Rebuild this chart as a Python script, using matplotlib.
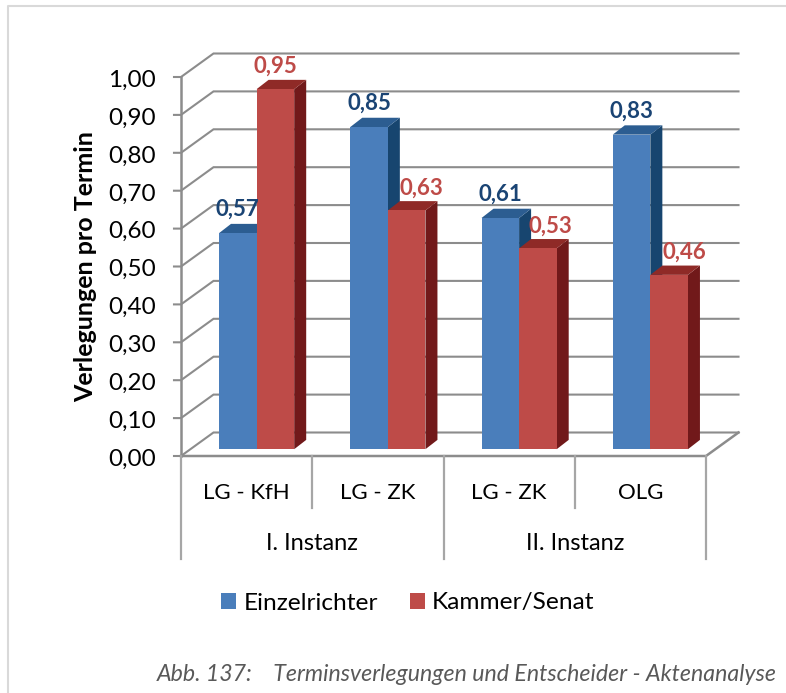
import numpy as np
import matplotlib
matplotlib.use('Agg')
from matplotlib import pyplot as plt
from matplotlib.patches import Patch, Polygon

plt.rcParams['font.family'] = ['Lato', 'DejaVu Sans']

categories = ['LG - KfH', 'LG - ZK', 'LG - ZK', 'OLG']
groups = ['I. Instanz', 'II. Instanz']
einzelrichter = [0.57, 0.85, 0.61, 0.83]
kammer_senat = [0.95, 0.63, 0.53, 0.46]
y_ticks = [0.0, 0.1, 0.2, 0.3, 0.4, 0.5, 0.6, 0.7, 0.8, 0.9, 1.0]

W, H = 786, 693
GRID = '#8c8c8c'
SEP = '#a6a6a6'

fig = plt.figure(figsize=(W / 100, H / 100), dpi=100)
# front plane of the fake 3d box, 181..706 px wide, 77..456 px high
ax = fig.add_axes([181 / W, 1 - 456 / H, 525 / W, 379 / H])
ax.set_xlim(0, 4)
ax.set_ylim(0, 1)
ax.axis('off')

px = 4 / 525
py = 1 / 379

wall_x, wall_y = 32.5 * px, 23.5 * py
for t in y_ticks:
    ax.plot([-7 * px, 0, wall_x, 4 + wall_x], [t, t, t + wall_y, t + wall_y],
            color=GRID, lw=1.5, clip_on=False, zorder=1, solid_joinstyle='miter')
ax.plot([0, 0], [0, 1], color=GRID, lw=1.8, clip_on=False, zorder=1)
ax.plot([0, 4, 4 + wall_x], [0, 0, wall_y], color=GRID, lw=1.8, clip_on=False, zorder=1)

# separators under the axis
for i in range(5):
    low = 103 if i % 2 == 0 else 52
    ax.plot([i, i], [0, -low * py], color=SEP, lw=1.6, clip_on=False, zorder=1)


def bar3d(x0, val, front, top, side):
    # x0 = left edge of the front face, in category units
    w = 37.6 * px
    dx, dy = 12 * px, 9.3 * py
    y0 = 6.8 * py
    y1 = y0 + val
    ax.add_patch(Polygon([(x0 + w, y0), (x0 + w + dx, y0 + dy), (x0 + w + dx, y1 + dy), (x0 + w, y1)],
                         fc=side, ec='none', clip_on=False, zorder=3))
    ax.add_patch(Polygon([(x0, y1), (x0 + w, y1), (x0 + w + dx, y1 + dy), (x0 + dx, y1 + dy)],
                         fc=top, ec='none', clip_on=False, zorder=3))
    ax.add_patch(Polygon([(x0, y0), (x0 + w, y0), (x0 + w, y1), (x0, y1)],
                         fc=front, ec='none', clip_on=False, zorder=3))
    return x0 + w / 2, y1


red_dx = [0, 15, 12, 15]
for i in range(4):
    left = i + 38 * px
    xb, yb = bar3d(left, einzelrichter[i], '#4a7ebb', '#2c5d91', '#17456f')
    xr, yr = bar3d(left + 37.6 * px, kammer_senat[i], '#be4b48', '#8f2a27', '#71191a')
    ax.text(xb, yb + 23.5 * py, ('%.2f' % einzelrichter[i]).replace('.', ','),
            color='#1a4474', fontsize=16, fontweight='bold', ha='center', va='center', zorder=5)
    ax.text(xr + red_dx[i] * px, yr + 22.5 * py, ('%.2f' % kammer_senat[i]).replace('.', ','),
            color='#be4b48', fontsize=16, fontweight='bold', ha='center', va='center', zorder=5)

for t in y_ticks:
    ax.text(-25 * px, t - 3.2 * py, ('%.2f' % t).replace('.', ','), fontsize=17.5, color='black',
            ha='right', va='center', clip_on=False)

for i, c in enumerate(categories):
    ax.text(i + 0.5, -37 * py, c, fontsize=16, ha='center', va='center', clip_on=False)
for i, g in enumerate(groups):
    ax.text(2 * i + 1, -87 * py, g, fontsize=17, ha='center', va='center', clip_on=False)

fig.text(86 / W, 1 - 267 / H, 'Verlegungen pro Termin', rotation=90, fontsize=18,
         fontweight='bold', ha='center', va='center')

handles = [Patch(fc='#4a7ebb', label='Einzelrichter'), Patch(fc='#be4b48', label='Kammer/Senat')]
fig.legend(handles=handles, loc='center', bbox_to_anchor=(408 / W, 1 - 603 / H), ncol=2, frameon=False,
           fontsize=17.6, handlelength=0.61, handleheight=0.61, handletextpad=0.3, columnspacing=1.3,
           borderpad=0, borderaxespad=0)

fig.text(777 / W, 1 - 674.5 / H, 'Abb. 137:    Terminsverlegungen und Entscheider - Aktenanalyse',
         fontsize=16.7, style='italic', color='#595959', ha='right', va='center')

# frame of the chart area, cut off by the crop
fig.add_artist(plt.Line2D([8 / W, 8 / W, 1], [0, 1 - 6 / H, 1 - 6 / H], color='#d9d9d9', lw=1.5))

fig.savefig('out.png', dpi=100)
